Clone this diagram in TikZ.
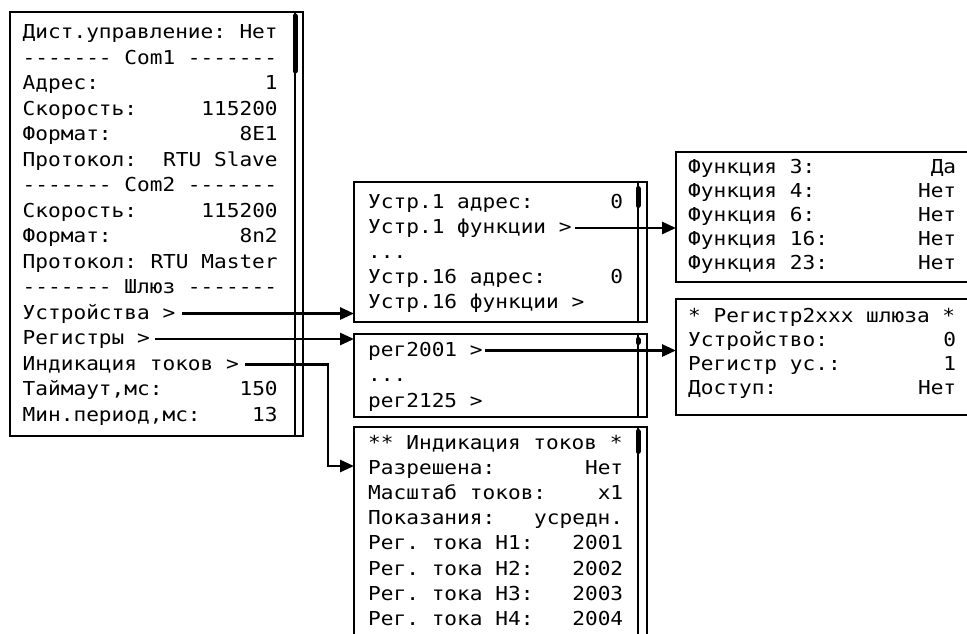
\documentclass[tikz,border=0pt]{standalone}
\usepackage{fontspec}
\setmonofont{DejaVu Sans Mono}[FakeStretch=1.10]
\usetikzlibrary{arrows.meta}

\newcommand\lcdrow[2]{\leavevmode\hbox to \linewidth{%
  \setbox0\hbox{0}\spaceskip=\wd0\relax\xspaceskip=\wd0\relax
  #1\hfil #2}}

\tikzset{
  screen/.style={draw, line width=1.4pt, inner sep=0pt, outer sep=0pt, anchor=north west, rectangle},
  lcd/.style={font=\ttfamily\fontsize{19.2}{#1}\selectfont, inner sep=0pt, anchor=base west, text width=255pt},
  lcd/.default=25.5,
  bar/.style={line width=1.4pt},
  thumb/.style={line width=5pt, line cap=round},
  link/.style={line width=2.7pt, -{Triangle[length=14pt,width=12pt]}},
}

\begin{document}
\begin{tikzpicture}[x=1pt, y=-1pt]
      \useasboundingbox (0,0) rectangle (967,633);

      % Main menu
      \node[screen, minimum width=293pt, minimum height=424pt] (main) at (10,12) {};
      \draw[bar] ([xshift=-8pt]main.north east) -- ([xshift=-8pt]main.south east);
      \draw[thumb] ([shift={(-8,4)}]main.north east) -- ([shift={(-8,59)}]main.north east);
      \node[lcd] (maintxt) at ([shift={(12.5,26.5)}]main.north west) {%
        \lcdrow{Дист.управление:}{Нет}\\
        \lcdrow{------- Com1 -------}{}\\
        \lcdrow{Адрес:}{1}\\
        \lcdrow{Скорость:}{115200}\\
        \lcdrow{Формат:}{8E1}\\
        \lcdrow{Протокол:}{RTU Slave}\\
        \lcdrow{------- Com2 -------}{}\\
        \lcdrow{Скорость:}{115200}\\
        \lcdrow{Формат:}{8n2}\\
        \lcdrow{Протокол:}{RTU Master}\\
        \lcdrow{------- Шлюз -------}{}\\
        \lcdrow{Устройства >}{}\\
        \lcdrow{Регистры >}{}\\
        \lcdrow{Индикация токов >}{}\\
        \lcdrow{Таймаут,мс:}{150}\\
        \lcdrow{Мин.период,мс:}{13}};

      % Devices
      \node[screen, minimum width=293pt, minimum height=140pt] (devs) at (354,182) {};
      \draw[bar] ([xshift=-9pt]devs.north east) -- ([xshift=-9pt]devs.south east);
      \draw[thumb] ([shift={(-9,6.5)}]devs.north east) -- ([shift={(-9,23.5)}]devs.north east);
      \node[lcd=25] (devstxt) at ([shift={(14,26.5)}]devs.north west) {%
        \lcdrow{Устр.1 адрес:}{0}\\
        \lcdrow{Устр.1 функции >}{}\\
        \lcdrow{...}{}\\
        \lcdrow{Устр.16 адрес:}{0}\\
        \lcdrow{Устр.16 функции >}{}};

      % Registers
      \node[screen, minimum width=293pt, minimum height=83pt] (regs) at (354,334) {};
      \draw[bar] ([xshift=-9pt]regs.north east) -- ([xshift=-9pt]regs.south east);
      \draw[thumb] ([shift={(-9,5.5)}]regs.north east) -- ([shift={(-9,8.5)}]regs.north east);
      \node[lcd] (regstxt) at ([shift={(14,22)}]regs.north west) {%
        \lcdrow{рег2001 >}{}\\
        \lcdrow{...}{}\\
        \lcdrow{рег2125 >}{}};

      % Current indication
      \node[screen, minimum width=293pt, minimum height=230pt] (ind) at (354,427) {};
      \draw[bar] ([xshift=-9pt]ind.north east) -- ([xshift=-9pt]ind.south east);
      \draw[thumb] ([shift={(-9,4.5)}]ind.north east) -- ([shift={(-9,24.5)}]ind.north east);
      \node[lcd=25.2] (indtxt) at ([shift={(14,22)}]ind.north west) {%
        \lcdrow{** Индикация токов *}{}\\
        \lcdrow{Разрешена:}{Нет}\\
        \lcdrow{Масштаб токов:}{x1}\\
        \lcdrow{Показания:}{усредн.}\\
        \lcdrow{Рег. тока Н1:}{2001}\\
        \lcdrow{Рег. тока Н2:}{2002}\\
        \lcdrow{Рег. тока Н3:}{2003}\\
        \lcdrow{Рег. тока Н4:}{2004}};

      % Device functions
      \node[screen, minimum width=310pt, minimum height=130pt] (funcs) at (676,152) {};
      \node[lcd=24, text width=268pt] (funcstxt) at ([shift={(12,21)}]funcs.north west) {%
        \lcdrow{Функция 3:}{Да}\\
        \lcdrow{Функция 4:}{Нет}\\
        \lcdrow{Функция 6:}{Нет}\\
        \lcdrow{Функция 16:}{Нет}\\
        \lcdrow{Функция 23:}{Нет}};

      % Gateway register
      \node[screen, minimum width=310pt, minimum height=116pt] (reg2) at (676,299) {};
      \node[lcd=24, text width=268pt] (reg2txt) at ([shift={(12,23.5)}]reg2.north west) {%
        \lcdrow{* Регистр2xxx шлюза *}{}\\
        \lcdrow{Устройство:}{0}\\
        \lcdrow{Регистр ус.:}{1}\\
        \lcdrow{Доступ:}{Нет}};

      % Links
      \coordinate (devsout) at ([shift={(159.5,275)}]maintxt.base west);
      \coordinate (regsout) at ([shift={(132.5,300.5)}]maintxt.base west);
      \coordinate (indout) at ([shift={(222.5,326)}]maintxt.base west);
      \coordinate (indin) at ([shift={(0,39)}]ind.north west);
      \coordinate (fnout) at ([shift={(207,19.5)}]devstxt.base west);
      \coordinate (regout) at ([shift={(117,-5.5)}]regstxt.base west);

      \draw[link] (devsout) -- (devsout -| devs.west);
      \draw[link] (regsout) -- (regsout -| regs.west);
      \draw[link] (indout) -| ([xshift=-26pt]indin) -- (indin);
      \draw[link] (fnout) -- (fnout -| funcs.west);
      \draw[link] (regout) -- (regout -| reg2.west);

\end{tikzpicture}
\end{document}
